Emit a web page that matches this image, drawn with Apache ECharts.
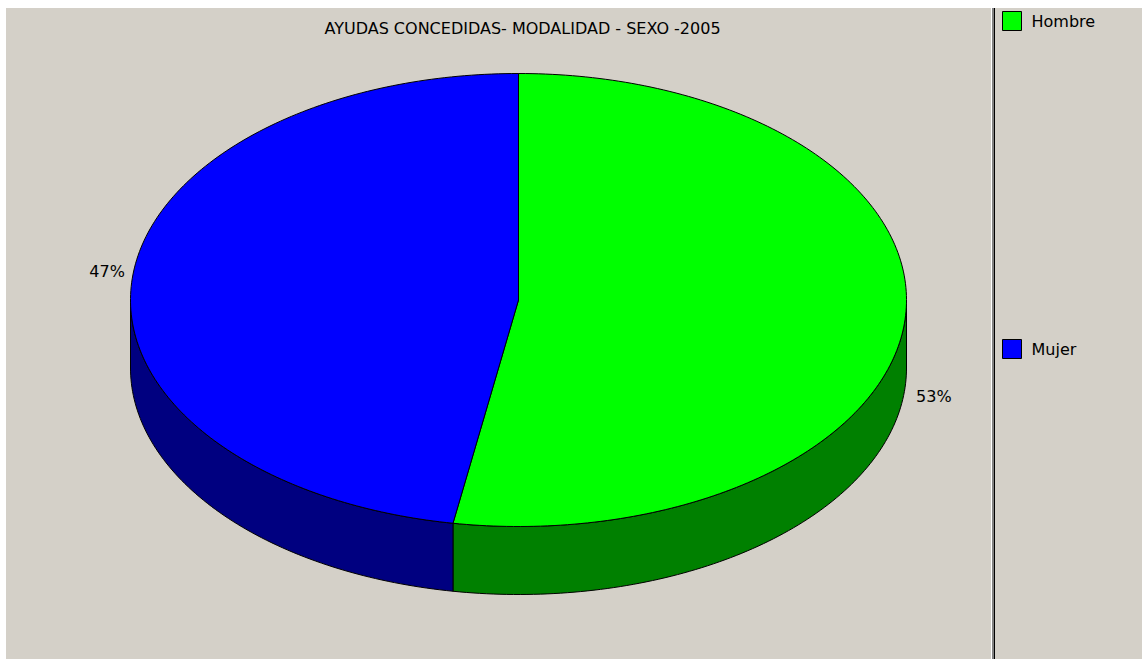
<!DOCTYPE html>
<html><head><meta charset="utf-8">
<script src="https://cdn.jsdelivr.net/npm/echarts@6/dist/echarts.min.js"></script>
<style>html,body{margin:0;padding:0;background:#fff}#c{width:1142px;height:659px}</style>
</head><body><div id="c"></div>
<script>
const titleText = 'AYUDAS CONCEDIDAS- MODALIDAD - SEXO -2005';
const categories = ['Hombre', 'Mujer'];
const values = [52.7, 47.3];
const topColors = ['#00ff00', '#0000ff'];
const sideColors = ['#008000', '#000080'];

const FONT = '"DejaVu Sans", Verdana, sans-serif';
const CX = 518.5, CY = 300, RX = 388, RY = 226.5, DEPTH = 68;
const total = values.reduce((a, b) => a + b, 0);
const starts = [];
let acc = 0;
values.forEach(v => { starts.push(acc / total * 360); acc += v; });

function pt(deg, dy) {
  const r = deg * Math.PI / 180;
  return [CX + RX * Math.sin(r), CY - RY * Math.cos(r) + (dy || 0)];
}
function arc(a, b, dy) {
  const n = Math.max(2, Math.ceil(Math.abs(b - a)));
  const out = [];
  for (let i = 0; i <= n; i++) out.push(pt(a + (b - a) * i / n, dy));
  return out;
}

function renderSlice(k) {
  return function (params, api) {
    const v = api.value(0);
    const a = starts[k], b = a + v / total * 360;
    const children = [];
    const s = Math.max(a, 90), e = Math.min(b, 270);
    if (e > s) {
      const topArc = arc(s, e, 0), botArc = arc(e, s, DEPTH);
      children.push({
        type: 'polygon', shape: { points: topArc.concat(botArc) },
        style: { fill: sideColors[k], stroke: '#000', lineWidth: 1 }
      });
    }
    children.push({
      type: 'polygon', shape: { points: [[CX, CY]].concat(arc(a, b, 0)) },
      style: { fill: api.visual('color'), stroke: '#000', lineWidth: 1 }
    });
    const m = (a + b) / 2 * Math.PI / 180;
    const sn = Math.sin(m), cs = Math.cos(m);
    const lx = CX + (RX + (sn > 0 ? 11 : 7)) * sn;
    const ly = CY - RY * 1.5 * cs + (cs < 0 ? DEPTH : 0);
    children.push({
      type: 'text', x: lx, y: ly,
      style: {
        text: Math.round(v / total * 100) + '%', fill: '#000',
        fontSize: 16, fontFamily: FONT,
        align: sn > 0 ? 'left' : 'right', verticalAlign: 'middle'
      }
    });
    return { type: 'group', children: children };
  };
}

const chart = echarts.init(document.getElementById('c'), null, { renderer: 'svg' });
chart.setOption({
  animation: false,
  backgroundColor: '#ffffff',
  graphic: [
    { type: 'rect', z: -10, shape: { x: 6, y: 8, width: 1136, height: 651 }, style: { fill: '#d4d0c8' } },
    { type: 'rect', z: -9, shape: { x: 991, y: 8, width: 1, height: 651 }, style: { fill: '#ffffff' } },
    { type: 'rect', z: -9, shape: { x: 992, y: 8, width: 2, height: 651 }, style: { fill: '#808080' } },
    { type: 'rect', z: -9, shape: { x: 994, y: 8, width: 1, height: 651 }, style: { fill: '#000000' } },
    { type: 'text', z: 5, x: 522.5, y: 28, style: { text: titleText, fill: '#000', fontSize: 16, fontFamily: FONT, align: 'center', verticalAlign: 'middle' } }
  ],
  legend: {
    orient: 'vertical', left: 1002, top: 11, padding: 0,
    itemWidth: 19, itemHeight: 19, itemGap: 308, icon: 'rect',
    selectedMode: false,
    itemStyle: { borderColor: '#000', borderWidth: 1 },
    textStyle: { fontSize: 16, fontFamily: FONT, color: '#000', padding: [0, 0, 0, 5] },
    data: categories
  },
  series: categories.map((c, k) => ({
    type: 'custom', name: c, coordinateSystem: 'none', silent: true,
    itemStyle: { color: topColors[k] },
    renderItem: renderSlice(k),
    data: [values[k]]
  }))
});
</script></body></html>
